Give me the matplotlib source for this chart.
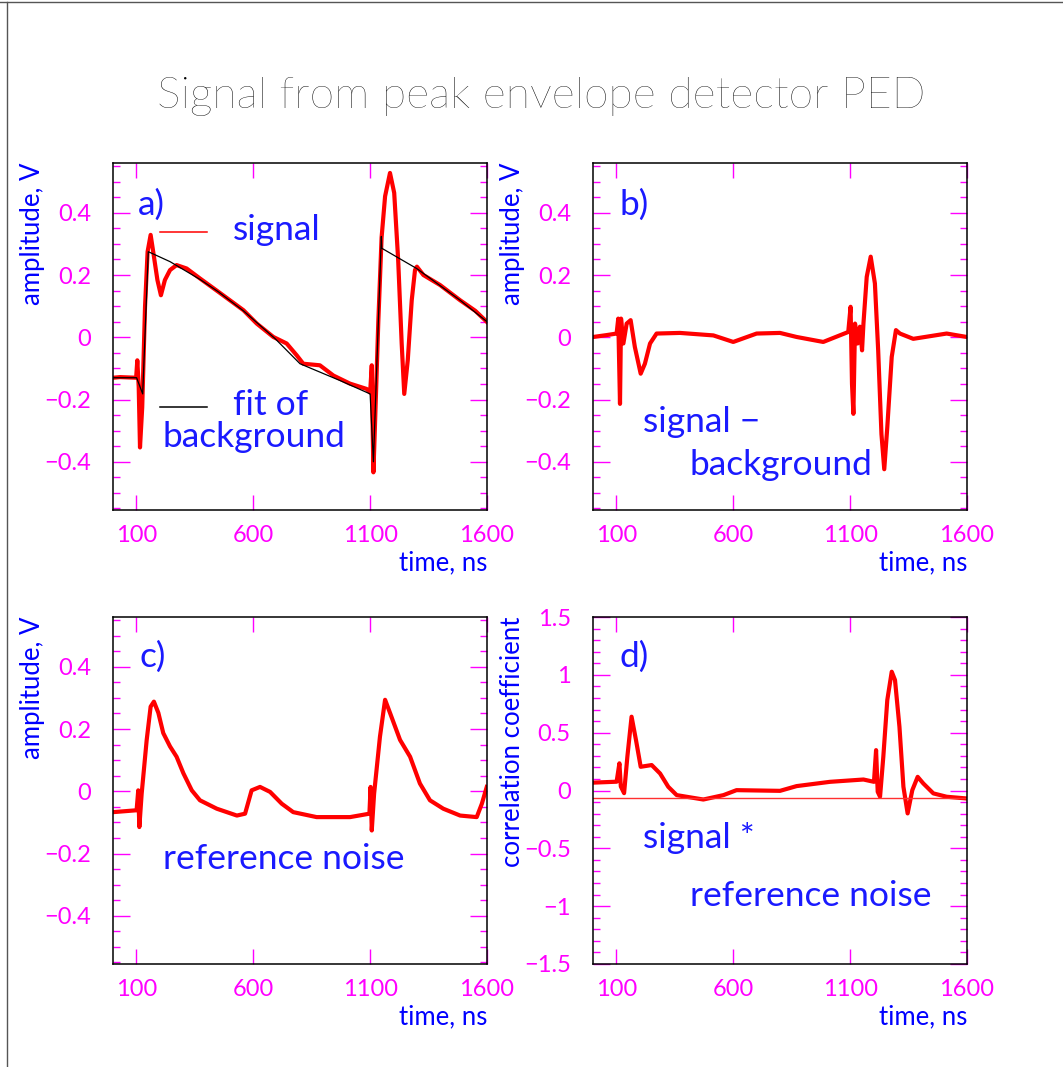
import matplotlib
matplotlib.use("Agg")
import matplotlib.pyplot as plt
from matplotlib.ticker import MultipleLocator
from matplotlib.lines import Line2D

plt.rcParams['font.family'] = ['Lato', 'DejaVu Sans']
plt.rcParams['axes.unicode_minus'] = True

# ---- data (time in ns, amplitude in V) ----
# a) signal
t_sig = [1, 30, 99, 104, 110, 115.5, 125, 137, 148, 161, 172, 190, 205, 222, 244, 272,
         315, 372, 451, 558, 615, 686, 743, 786, 814, 885, 943, 1014, 1085, 1100, 1107,
         1110, 1114, 1120, 1135, 1149, 1164, 1185, 1203, 1220, 1235, 1246, 1261, 1278,
         1292, 1300, 1328, 1399, 1485, 1550, 1600]
v_sig = [-0.13, -0.128, -0.13, -0.074, -0.16, -0.354, -0.225, 0.098, 0.275, 0.329, 0.275,
         0.184, 0.135, 0.184, 0.216, 0.232, 0.221, 0.189, 0.146, 0.087, 0.044, 0.001, -0.02,
         -0.058, -0.085, -0.09, -0.123, -0.149, -0.166, -0.178, -0.09, -0.25, -0.434, -0.30,
         0.05, 0.32, 0.453, 0.528, 0.464, 0.248, -0.02, -0.182, -0.074, 0.119, 0.216, 0.227,
         0.2, 0.168, 0.119, 0.085, 0.049]
# a) fit of background
t_bkg = [0, 101, 127, 151, 244, 372, 451, 558, 693, 800, 971, 1100, 1114, 1148, 1150,
         1299, 1485, 1600]
v_bkg = [-0.13, -0.13, -0.182, 0.275, 0.243, 0.186, 0.146, 0.085, -0.004, -0.085, -0.139,
         -0.182, -0.40, 0.324, 0.286, 0.221, 0.119, 0.05]

# b) signal - background
t_diff = [1, 58, 101, 108, 115.5, 120, 130, 144, 161, 179, 204, 222, 244, 272, 372, 515,
          600, 700, 800, 871, 985, 1092, 1102, 1108, 1114, 1121, 1132, 1142, 1151, 1157,
          1171, 1188, 1206, 1220, 1234, 1246, 1259, 1278, 1296, 1313, 1370, 1513, 1599]
v_diff = [0.001, 0.007, 0.012, 0.06, -0.214, 0.06, -0.02, 0.044, 0.055, -0.031, -0.117,
          -0.085, -0.02, 0.012, 0.014, 0.006, -0.015, 0.012, 0.014, 0.001, -0.015, 0.017,
          0.098, -0.15, -0.246, 0.044, -0.02, 0.034, -0.042, 0.044, 0.194, 0.259, 0.173,
          -0.042, -0.311, -0.424, -0.289, -0.063, 0.023, 0.012, -0.005, 0.012, 0.001]

# c) reference noise
t_ref = [1, 101, 108, 112.7, 122.6, 144, 161, 175, 194, 215, 244, 272, 301, 337, 372, 444,
         530, 565, 593, 629, 672, 722, 771, 871, 1014, 1097, 1102, 1107, 1117, 1142, 1164,
         1185, 1228, 1271, 1313, 1356, 1413, 1485, 1556, 1578, 1599]
v_ref = [-0.067, -0.061, 0.003, -0.115, -0.008, 0.164, 0.272, 0.288, 0.252, 0.187, 0.144,
         0.111, 0.058, 0.003, -0.029, -0.056, -0.078, -0.072, 0.003, 0.014, -0.002, -0.040,
         -0.067, -0.083, -0.083, -0.072, 0.014, -0.126, -0.008, 0.175, 0.294, 0.252, 0.165,
         0.111, 0.025, -0.029, -0.056, -0.078, -0.083, -0.040, 0.014]

# d) correlation coefficient
t_cor = [1, 101, 113, 119, 133, 147, 165, 184, 204, 251, 287, 322, 358, 472, 558, 614, 800,
         871, 1014, 1157, 1202, 1211, 1218, 1228, 1242, 1259, 1278, 1292, 1311, 1328, 1346,
         1366, 1389, 1413, 1456, 1513, 1599]
v_cor = [0.068, 0.076, 0.235, 0.035, -0.023, 0.292, 0.638, 0.435, 0.205, 0.220, 0.147,
         0.032, -0.040, -0.078, -0.040, 0.003, -0.003, 0.038, 0.075, 0.095, 0.075, 0.349,
         -0.011, -0.054, 0.292, 0.782, 1.027, 0.955, 0.551, 0.032, -0.198, 0.003, 0.118,
         0.061, -0.025, -0.054, -0.069]
cor_level = -0.065

xticks = [100, 600, 1100, 1600]
amp_ticks = [-0.4, -0.2, 0, 0.2, 0.4]
amp_labels = ['\u22120.4', '\u22120.2', '0', '0.2', '0.4']
cor_ticks = [-1.5, -1, -0.5, 0, 0.5, 1, 1.5]
cor_labels = ['\u22121.5', '\u22121', '\u22120.5', '0', '0.5', '1', '1.5']

MAG = '#ff00ff'
BLUE = '#0000ff'
TXT = '#1a1aff'
TFS = 25.5   # size of the in-panel notes

fig = plt.figure(figsize=(10.63, 10.67), dpi=100)

W, H = 1063.0, 1067.0
def box(x0, y0):
    return [x0 / W, 1 - (y0 + 347) / H, 374 / W, 347 / H]

ax_a = fig.add_axes(box(113, 163))
ax_b = fig.add_axes(box(593, 163))
ax_c = fig.add_axes(box(113, 617))
ax_d = fig.add_axes(box(593, 617))

def style(ax, yt, yl, ylim, minor, ylab):
    ax.set_xlim(0, 1600)
    ax.set_ylim(*ylim)
    ax.set_xticks(xticks)
    ax.set_xticklabels([str(v) for v in xticks])
    ax.set_yticks(yt)
    ax.set_yticklabels(yl)
    ax.yaxis.set_minor_locator(MultipleLocator(minor))
    ax.tick_params(axis='both', which='both', direction='in', top=True, right=True,
                   colors=MAG, labelcolor=MAG, labelsize=17, width=1.0)
    ax.tick_params(axis='x', which='major', length=11, pad=11)
    ax.tick_params(axis='y', which='major', length=12, pad=16)
    ax.tick_params(axis='y', which='minor', length=5)
    for s in ax.spines.values():
        s.set_color('black')
        s.set_linewidth(1.1)
    ax.text(1.0, -0.153, 'time, ns', transform=ax.transAxes, ha='right', va='center',
            color=BLUE, fontsize=18.5)
    ax.text(-0.214, 1.0, ylab, transform=ax.transAxes, rotation=90, ha='center', va='top',
            color=BLUE, fontsize=18.5)

amp_lim = (-0.555, 0.56)
style(ax_a, amp_ticks, amp_labels, amp_lim, 0.05, 'amplitude, V')
style(ax_b, amp_ticks, amp_labels, amp_lim, 0.05, 'amplitude, V')
style(ax_c, amp_ticks, amp_labels, amp_lim, 0.05, 'amplitude, V')
style(ax_d, cor_ticks, cor_labels, (-1.5, 1.5), 0.1, 'correlation coefficient')

# a)
ax_a.plot(t_sig, v_sig, color='red', lw=3.0, solid_joinstyle='round')
ax_a.plot(t_bkg, v_bkg, color='black', lw=0.9)
ax_a.add_line(Line2D([0.126, 0.251], [0.802, 0.802], transform=ax_a.transAxes, color='red', lw=1.1))
ax_a.add_line(Line2D([0.126, 0.251], [0.298, 0.298], transform=ax_a.transAxes, color='black', lw=1.1))
ax_a.text(0.067, 0.879, 'a)', transform=ax_a.transAxes, va='center', color=TXT, fontsize=TFS)
ax_a.text(0.321, 0.778, 'signal', transform=ax_a.transAxes, va='baseline', color=TXT, fontsize=TFS)
ax_a.text(0.321, 0.274, 'fit of', transform=ax_a.transAxes, va='baseline', color=TXT, fontsize=TFS)
ax_a.text(0.133, 0.182, 'background', transform=ax_a.transAxes, va='baseline', color=TXT, fontsize=TFS)

# b)
ax_b.plot(t_diff, v_diff, color='red', lw=3.0, solid_joinstyle='round')
ax_b.text(0.070, 0.879, 'b)', transform=ax_b.transAxes, va='center', color=TXT, fontsize=TFS)
ax_b.text(0.133, 0.226, 'signal \u2212', transform=ax_b.transAxes, va='baseline', color=TXT, fontsize=TFS)
ax_b.text(0.259, 0.101, 'background', transform=ax_b.transAxes, va='baseline', color=TXT, fontsize=TFS)

# c)
ax_c.plot(t_ref, v_ref, color='red', lw=3.0, solid_joinstyle='round')
ax_c.text(0.070, 0.886, 'c)', transform=ax_c.transAxes, va='center', color=TXT, fontsize=TFS)
ax_c.text(0.133, 0.273, 'reference noise', transform=ax_c.transAxes, va='baseline', color=TXT, fontsize=TFS)

# d)
ax_d.plot(t_cor, v_cor, color='red', lw=3.0, solid_joinstyle='round')
ax_d.axhline(cor_level, color='#ff3030', lw=1.0)
ax_d.text(0.070, 0.886, 'd)', transform=ax_d.transAxes, va='center', color=TXT, fontsize=TFS)
ax_d.text(0.133, 0.333, 'signal *', transform=ax_d.transAxes, va='baseline', color=TXT, fontsize=TFS)
ax_d.text(0.259, 0.167, 'reference noise', transform=ax_d.transAxes, va='baseline', color=TXT, fontsize=TFS)

fig.text(541 / W, 1 - 97 / H, 'Signal from peak envelope detector PED', ha='center', va='center',
         fontsize=32, fontweight='light', color='black')

# page frame lines
fig.add_artist(Line2D([7 / W, 7 / W], [0, 1 - 2 / H], color='#555555', lw=1.0))
fig.add_artist(Line2D([0, 1], [1 - 2 / H, 1 - 2 / H], color='#555555', lw=1.0))

fig.savefig('out.png', dpi=100)
